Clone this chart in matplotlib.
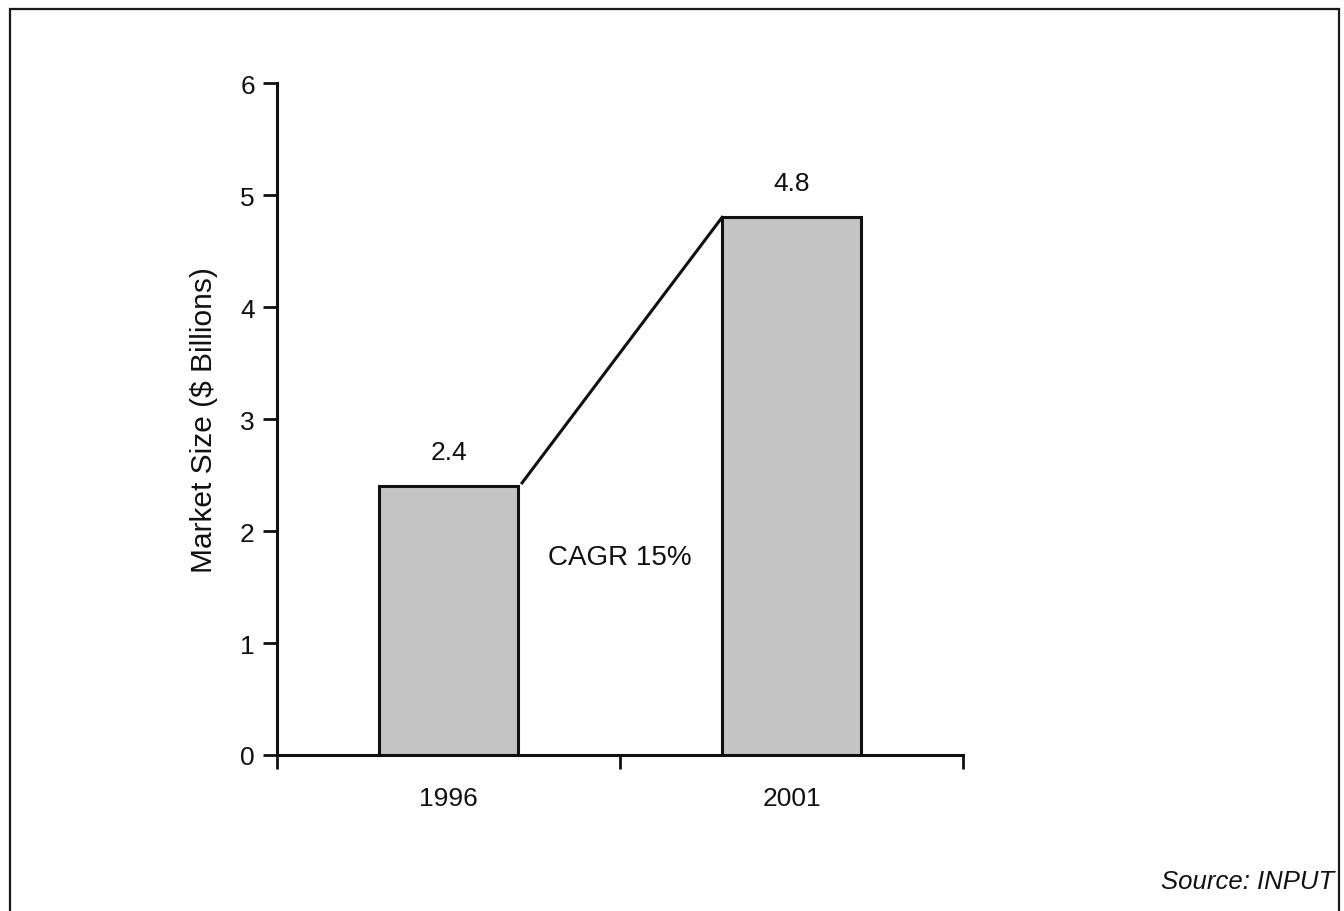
import matplotlib
matplotlib.use("Agg")
import matplotlib.pyplot as plt
from matplotlib.patches import Rectangle

plt.rcParams['font.family'] = ['Liberation Sans', 'DejaVu Sans']

years = ["1996", "2001"]
values = [2.4, 4.8]
value_labels = ["2.4", "4.8"]
cagr_text = "CAGR 15%"
y_label = "Market Size ($ Billions)"
source_text = "Source: INPUT"
y_ticks = [0, 1, 2, 3, 4, 5, 6]

fig = plt.figure(figsize=(13.44, 9.12), dpi=100)
fig.patch.set_facecolor('white')

# outer frame (bottom runs off the page)
fig.patches.append(Rectangle((10/1344, -0.05), (1339-10)/1344, 1.05 - 10/912,
                             transform=fig.transFigure, fill=False,
                             edgecolor='#1a1a1a', linewidth=1.6))

ax = fig.add_axes([277/1344, 156/912, (963-277)/1344, (756-84)/912])

pos = [0.5, 1.5]
width = 0.405
ax.bar(pos, values, width=width, color='#c4c4c4', edgecolor='#111111',
       linewidth=2.2, zorder=2)

for x, v, lab in zip(pos, values, value_labels):
    ax.annotate(lab, xy=(x, v), xytext=(0, 24.5), textcoords='offset points',
                ha='center', va='center', fontsize=19, color='#111111')

# CAGR connecting line from top-right of first bar to top-left of second
ax.plot([pos[0] + width/2 + 0.012, pos[1] - width/2], [values[0] + 0.03, values[1]],
        color='#111111', linewidth=2.2, zorder=3)
ax.text(1.0, 1.77, cagr_text, ha='center', va='center', fontsize=20,
        color='#111111')

ax.set_xlim(0, 2)
ax.set_ylim(0, 6)
ax.set_yticks(y_ticks)
ax.set_yticklabels([str(t) for t in y_ticks], fontsize=19, color='#111111')
ax.set_xticks([0, 1, 2])
ax.set_xticklabels([])
ax.set_xticks(pos, minor=True)
ax.set_xticklabels(years, minor=True, fontsize=19, color='#111111')
ax.tick_params(axis='x', which='minor', length=0, pad=22)
ax.tick_params(axis='x', which='major', direction='out', length=10, width=2,
               color='#111111')
ax.tick_params(axis='y', direction='out', length=10, width=2,
               color='#111111', pad=6)

ax.set_ylabel(y_label, fontsize=21.5, color='#111111', labelpad=16)

for s in ['top', 'right']:
    ax.spines[s].set_visible(False)
for s in ['left', 'bottom']:
    ax.spines[s].set_linewidth(2.2)
    ax.spines[s].set_color('#111111')

fig.text(1334/1344, 1 - 882/912, source_text, ha='right', va='center',
         fontsize=18.5, style='italic', color='#111111')

fig.savefig('out.png', dpi=100, facecolor='white')
